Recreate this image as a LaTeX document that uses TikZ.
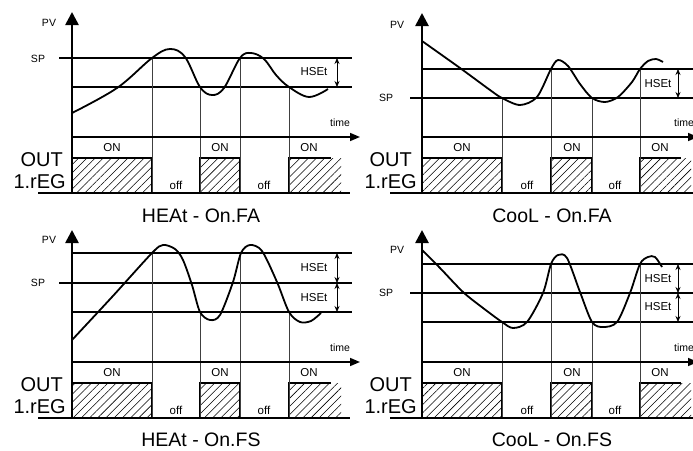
\documentclass[tikz,border=0pt]{standalone}
\usepackage{fontspec}
\setmainfont{Liberation Sans}
\usetikzlibrary{arrows.meta,patterns.meta}

\begin{document}
\begin{tikzpicture}[x=1pt,y=-1pt,
  axis/.style={line width=2.6pt},
  level/.style={line width=1.6pt},
  pvline/.style={line width=1.8pt, line join=round},
  switch/.style={line width=0.7pt, black!75},
  onbox/.style={line width=1.6pt},
  hatch/.style={pattern={Lines[angle=45,distance=5.8pt,line width=0.55pt]}},
  band/.style={line width=0.8pt, {Stealth[length=6pt,width=5pt]}-{Stealth[length=6pt,width=5pt]}},
  tag/.style={inner sep=0pt, font=\fontsize{10.5}{12}\selectfont},
  hset/.style={inner sep=0pt, font=\fontsize{11.5}{13}\selectfont},
  state/.style={inner sep=0pt, font=\fontsize{11.5}{13}\selectfont},
  outlbl/.style={inner sep=0pt, anchor=east, font=\fontsize{20}{22}\selectfont},
  title/.style={inner sep=0pt, font=\fontsize{19.5}{22}\selectfont}]

  \useasboundingbox (0,0) rectangle (693,450);
  \clip (0,0) rectangle (693,450);

  % -------------------------------------------------------
  % Panel (a): HEAt - On.FA
  % -------------------------------------------------------
  \begin{scope}

    % Output row: hatched ON intervals
    \fill[hatch] (72,158) rectangle (152,193);
    \fill[hatch] (200,158) rectangle (240,193);
    \fill[hatch] (289,158) rectangle (341,193);
    \draw[onbox] (72,158) -- (152,158) -- (152,193);
    \draw[onbox] (200,193) |- (240,158) -- (240,193);
    \draw[onbox] (289,193) |- (331,158);

    % Threshold lines (SP and SP-HSEt)
    \draw[level] (59,58) -- (352,58);
    \draw[level] (72,87) -- (352,87);
    \node[tag] (spA) at (38,59) {SP};

    % Hysteresis band
    \draw[band] (337,58) -- (337,87);
    \node[hset] (hsA) at (314,72) {HSEt};

    % Switching instants
    \draw[switch] (152,58) -- (152,193);
    \draw[switch] (200,87) -- (200,193);
    \draw[switch] (240,58) -- (240,193);
    \draw[switch] (289,87) -- (289,193);

    % Process value
    \draw[pvline] plot[smooth, tension=0.6] coordinates {(72,113) (117,88)
      (152,58) (170,49) (185,57) (200,87) (212,95) (224,88) (240,58) (251,53)
      (264,59) (276,75) (289,87) (309,97) (328,89)};

    % Axes
    \draw[level, -{Triangle[length=10pt,width=8pt]}] (72,137) -- (360,137);
    \draw[axis] (38,193) -- (350,193);
    \draw[axis, -{Triangle[length=13pt,width=13pt]}] (72,194) -- (72,12);

    % Labels
    \node[tag] (pvA) at (49,23) {PV};
    \node[tag] (timeA) at (340,123) {time};
    \node[state] (onA1) at (112,148) {ON};
    \node[state] (onA2) at (220,148) {ON};
    \node[state] (onA3) at (309,148) {ON};
    \node[state] (offA1) at (176,185) {off};
    \node[state] (offA2) at (264,185) {off};
    \node[outlbl] (outA) at (63,160) {OUT};
    \node[outlbl] (regA) at (66,182) {1.rEG};

    % Panel title below
    \node[title] (ttlA) at (201,216) {HEAt - On.FA};

  \end{scope}

  % -------------------------------------------------------
  % Panel (b): CooL - On.FA
  % -------------------------------------------------------
  \begin{scope}[shift={(350,0)}]

    % Output row: hatched ON intervals
    \fill[hatch] (72,158) rectangle (152,193);
    \fill[hatch] (201,158) rectangle (242,193);
    \fill[hatch] (290,158) rectangle (341,193);
    \draw[onbox] (72,158) -- (152,158) -- (152,193);
    \draw[onbox] (201,193) |- (242,158) -- (242,193);
    \draw[onbox] (290,193) |- (331,158);

    % Threshold lines (SP+HSEt and SP)
    \draw[level] (72,69) -- (352,69);
    \draw[level] (60,98) -- (352,98);
    \node[tag] (spB) at (36,98) {SP};

    % Hysteresis band
    \draw[band] (328,69) -- (328,98);
    \node[hset] (hsB) at (308,84) {HSEt};

    % Switching instants
    \draw[switch] (152,98) -- (152,193);
    \draw[switch] (201,69) -- (201,193);
    \draw[switch] (242,98) -- (242,193);
    \draw[switch] (290,69) -- (290,193);

    % Process value
    \draw[pvline] plot[smooth, tension=0.5] coordinates {(72,41) (110,68)
      (140,90) (152,98) (170,105) (187,97) (201,69) (208,60) (218,66) (230,84)
      (242,98) (255,102) (268,97) (282,82) (290,69) (298,61) (306,59) (313,62)};

    % Axes
    \draw[level, -{Triangle[length=10pt,width=8pt]}] (72,137) -- (348,137);
    \draw[axis] (40,193) -- (350,193);
    \draw[axis, -{Triangle[length=13pt,width=13pt]}] (72,194) -- (72,13);

    % Labels
    \node[tag] (pvB) at (47,25) {PV};
    \node[tag] (timeB) at (334,123) {time};
    \node[state] (onB1) at (112,148) {ON};
    \node[state] (onB2) at (222,148) {ON};
    \node[state] (onB3) at (310,148) {ON};
    \node[state] (offB1) at (177,185) {off};
    \node[state] (offB2) at (265,185) {off};
    \node[outlbl] (outB) at (62,160) {OUT};
    \node[outlbl] (regB) at (67,182) {1.rEG};

    % Panel title below
    \node[title] (ttlB) at (202,216) {CooL - On.FA};

  \end{scope}

  % -------------------------------------------------------
  % Panel (c): HEAt - On.FS
  % -------------------------------------------------------
  \begin{scope}[shift={(0,225)}]

    % Output row: hatched ON intervals
    \fill[hatch] (72,158) rectangle (152,193);
    \fill[hatch] (200,158) rectangle (240,193);
    \fill[hatch] (289,158) rectangle (341,193);
    \draw[onbox] (72,158) -- (152,158) -- (152,193);
    \draw[onbox] (200,193) |- (240,158) -- (240,193);
    \draw[onbox] (289,193) |- (331,158);

    % Threshold lines (SP+HSEt, SP, SP-HSEt)
    \draw[level] (72,28) -- (352,28);
    \draw[level] (59,58) -- (352,58);
    \draw[level] (72,87) -- (352,87);
    \node[tag] (spC) at (38,58) {SP};

    % Hysteresis bands
    \draw[band] (337,28) -- (337,58);
    \draw[band] (337,58) -- (337,87);
    \node[hset] (hsC1) at (314,43) {HSEt};
    \node[hset] (hsC2) at (314,73) {HSEt};

    % Switching instants
    \draw[switch] (152,28) -- (152,193);
    \draw[switch] (200,87) -- (200,193);
    \draw[switch] (240,28) -- (240,193);
    \draw[switch] (289,87) -- (289,193);

    % Process value
    \draw[pvline] plot[smooth, tension=0.5] coordinates {(72,115) (112,72)
      (152,28) (163,20) (175,24) (183,35) (192,60) (200,87) (210,95) (220,90)
      (233,57) (241,28) (250,20) (262,26) (277,57) (289,87) (300,97) (311,96)
      (321,88)};

    % Axes
    \draw[level, -{Triangle[length=10pt,width=8pt]}] (72,137) -- (360,137);
    \draw[axis] (38,193) -- (350,193);
    \draw[axis, -{Triangle[length=13pt,width=13pt]}] (72,194) -- (72,5);

    % Labels
    \node[tag] (pvC) at (49,15) {PV};
    \node[tag] (timeC) at (340,123) {time};
    \node[state] (onC1) at (112,148) {ON};
    \node[state] (onC2) at (220,148) {ON};
    \node[state] (onC3) at (309,148) {ON};
    \node[state] (offC1) at (176,185) {off};
    \node[state] (offC2) at (264,185) {off};
    \node[outlbl] (outC) at (63,160) {OUT};
    \node[outlbl] (regC) at (66,182) {1.rEG};

    % Panel title below
    \node[title] (ttlC) at (201,215) {HEAt - On.FS};

  \end{scope}

  % -------------------------------------------------------
  % Panel (d): CooL - On.FS
  % -------------------------------------------------------
  \begin{scope}[shift={(350,225)}]

    % Output row: hatched ON intervals
    \fill[hatch] (72,158) rectangle (152,193);
    \fill[hatch] (201,158) rectangle (242,193);
    \fill[hatch] (290,158) rectangle (341,193);
    \draw[onbox] (72,158) -- (152,158) -- (152,193);
    \draw[onbox] (201,193) |- (242,158) -- (242,193);
    \draw[onbox] (290,193) |- (331,158);

    % Threshold lines (SP+HSEt, SP, SP-HSEt)
    \draw[level] (72,39) -- (352,39);
    \draw[level] (60,68) -- (352,68);
    \draw[level] (72,97) -- (352,97);
    \node[tag] (spD) at (36,68) {SP};

    % Hysteresis bands
    \draw[band] (328,39) -- (328,68);
    \draw[band] (328,68) -- (328,97);
    \node[hset] (hsD1) at (308,54) {HSEt};
    \node[hset] (hsD2) at (308,82) {HSEt};

    % Switching instants
    \draw[switch] (152,97) -- (152,193);
    \draw[switch] (201,39) -- (201,193);
    \draw[switch] (242,97) -- (242,193);
    \draw[switch] (290,39) -- (290,193);

    % Process value
    \draw[pvline] plot[smooth, tension=0.5] coordinates {(72,25) (90,43)
      (113,67) (133,83) (152,97) (163,103) (177,97) (193,68) (201,39) (208,30)
      (217,33) (230,67) (242,97) (253,102) (267,97) (280,68) (290,39) (298,32)
      (305,32) (312,42)};

    % Axes
    \draw[level, -{Triangle[length=10pt,width=8pt]}] (72,137) -- (348,137);
    \draw[axis] (40,193) -- (350,193);
    \draw[axis, -{Triangle[length=13pt,width=13pt]}] (72,194) -- (72,5);

    % Labels
    \node[tag] (pvD) at (47,25) {PV};
    \node[tag] (timeD) at (334,123) {time};
    \node[state] (onD1) at (112,148) {ON};
    \node[state] (onD2) at (222,148) {ON};
    \node[state] (onD3) at (310,148) {ON};
    \node[state] (offD1) at (177,185) {off};
    \node[state] (offD2) at (265,185) {off};
    \node[outlbl] (outD) at (62,160) {OUT};
    \node[outlbl] (regD) at (67,182) {1.rEG};

    % Panel title below
    \node[title] (ttlD) at (202,215) {CooL - On.FS};

  \end{scope}

\end{tikzpicture}
\end{document}
